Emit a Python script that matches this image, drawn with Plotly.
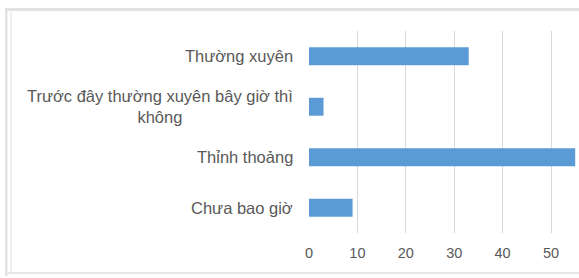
import plotly.graph_objects as go

categories = ["Chưa bao giờ", "Thỉnh thoảng", "Trước đây thường xuyên bây giờ thì<br>không", "Thường xuyên"]
values = [9, 55, 3, 33]
x_ticks = [0, 10, 20, 30, 40, 50]

W, H = 579, 278
L, R, T, B = 309, 0, 31, 45
pw, ph = W - L - R, H - T - B

def px(x):
    return (x - L) / pw

def py(y):
    return (H - B - y) / ph

fig = go.Figure(go.Bar(
    x=values, y=categories, orientation="h",
    marker=dict(color="#5b9bd5", line=dict(width=0)),
    width=0.355,
))

annotations = []
for c in categories:
    annotations.append(dict(
        x=0, xref="paper", y=c, yref="y", text=c, showarrow=False,
        xanchor="right", yanchor="middle", align="center", xshift=-14,
        font=dict(family="Liberation Sans, Arial, sans-serif", size=16.5, color="#595959"),
    ))

gray = "#e2e2e2"
shapes = [
    dict(type="rect", xref="paper", yref="paper", x0=px(5), x1=px(579), y0=py(11), y1=py(8),
         fillcolor=gray, line=dict(width=0), layer="below"),
    dict(type="rect", xref="paper", yref="paper", x0=px(5), x1=px(7.5), y0=py(276), y1=py(8),
         fillcolor=gray, line=dict(width=0), layer="below"),
    dict(type="rect", xref="paper", yref="paper", x0=px(10), x1=px(12), y0=py(272), y1=py(12),
         fillcolor="#eeeeee", line=dict(width=0), layer="below"),
    dict(type="rect", xref="paper", yref="paper", x0=px(5), x1=px(579), y0=py(274), y1=py(272),
         fillcolor="#e6e6e6", line=dict(width=0), layer="below"),
]

fig.update_layout(
    width=W, height=H,
    margin=dict(l=L, r=R, t=T, b=B, pad=0),
    paper_bgcolor="white", plot_bgcolor="white",
    showlegend=False,
    bargap=0.645,
    annotations=annotations,
    shapes=shapes,
    xaxis=dict(
        range=[0, pw / 4.84], tickvals=x_ticks, ticktext=[str(t) for t in x_ticks],
        showgrid=True, gridcolor="#d9d9d9", gridwidth=1, zeroline=False,
        showline=False, ticks="", ticklabelstandoff=9,
        tickfont=dict(family="Liberation Sans, Arial, sans-serif", size=14.5, color="#595959"),
        fixedrange=True,
    ),
    yaxis=dict(
        categoryorder="array", categoryarray=categories,
        range=[-0.5, 3.5], showticklabels=False, showgrid=False, zeroline=False,
        showline=False, ticks="", fixedrange=True,
    ),
)

fig.write_html(
    "out.html",
    config={"displayModeBar": False},
    post_script="document.body.style.margin='0';document.body.style.overflow='hidden';",
)
